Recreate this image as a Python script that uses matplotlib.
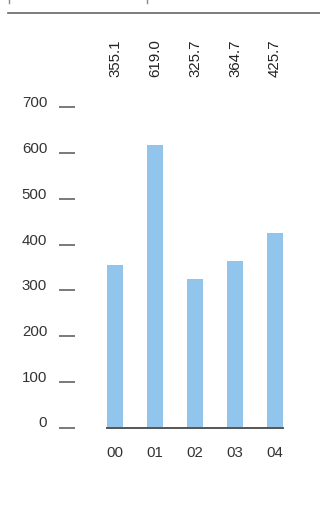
import matplotlib
matplotlib.use('Agg')
import matplotlib.pyplot as plt
import matplotlib.transforms as mtransforms
from matplotlib.lines import Line2D

plt.rcParams['font.family'] = ['Liberation Sans', 'DejaVu Sans']

categories = ['00', '01', '02', '03', '04']
values = [355.1, 619.0, 325.7, 364.7, 425.7]
yticks = [0, 100, 200, 300, 400, 500, 600, 700]

W, H = 320, 525
fig = plt.figure(figsize=(W / 100, H / 100), dpi=100)
fs = 10.8

# axes box in pixels: left 107, right 283, top 107.5, bottom 427.5
ax = fig.add_axes([107 / W, 1 - 427.5 / H, 176 / W, 320 / H])

x = list(range(len(categories)))
ax.bar(x, values, width=0.4, color='#92c5eb', zorder=2)
ax.set_xlim(-0.2, len(categories) - 0.8)
ax.set_ylim(0, 700)

for s in ['top', 'right']:
    ax.spines[s].set_visible(False)
ax.spines['bottom'].set_color('#555555')
ax.spines['bottom'].set_linewidth(1.4)
ax.spines['left'].set_position(('outward', 23))
ax.spines['left'].set_visible(False)

ax.set_xticks(x)
ax.set_xticklabels(categories)
ax.tick_params(axis='x', length=0, pad=13.5, labelsize=fs, labelcolor='#333333')

ax.set_yticks(yticks)
ax.set_yticklabels([str(t) for t in yticks])
ax.tick_params(axis='y', direction='out', length=11.5, width=1.1, color='#555555',
               pad=8.6, labelsize=fs, labelcolor='#333333')
offset = mtransforms.ScaledTranslation(0, 4 / 72, fig.dpi_scale_trans)
for lab in ax.get_yticklabels():
    lab.set_transform(lab.get_transform() + offset)

# value labels above the plot, rotated
trans = mtransforms.blended_transform_factory(ax.transData, fig.transFigure)
for xi, v in zip(x, values):
    ax.text(xi, 1 - 77 / H, f'{v:.1f}', rotation=90, ha='center', va='bottom',
            fontsize=fs, color='#222222', transform=trans, clip_on=False)

# header rule and small marks at very top
fig.add_artist(Line2D([8 / W, 1], [1 - 13 / H, 1 - 13 / H], color='#666666',
                      linewidth=1.2, transform=fig.transFigure))
for px in [9, 147]:
    fig.add_artist(Line2D([px / W, px / W], [1, 1 - 3 / H], color='#888888',
                          linewidth=1, transform=fig.transFigure))

fig.savefig('out.png', dpi=100)
